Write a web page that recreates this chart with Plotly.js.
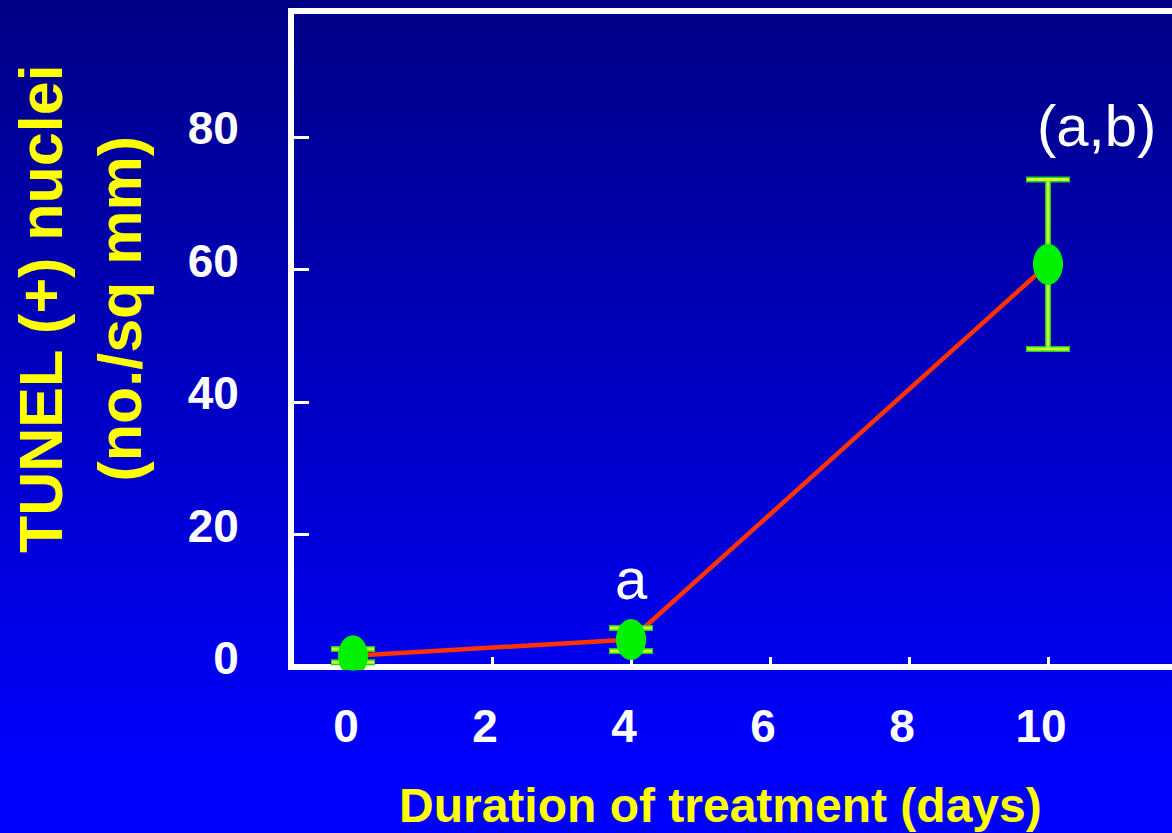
<!DOCTYPE html>
<html>
<head>
<meta charset="utf-8">
<script src="https://cdn.plot.ly/plotly-3.0.1.min.js"></script>
<style>
  html, body { margin: 0; padding: 0; width: 1172px; height: 833px; overflow: hidden; }
  body { background: linear-gradient(to bottom, #000085 0px, #0000ff 770px, #0000ff 833px); }
  #chart { width: 1172px; height: 833px; }
</style>
</head>
<body>
<div id="chart"></div>
<script>
// Data
const days = [0, 4, 10];                 // duration of treatment (days)
const tunel = [1.7, 4.15, 60.8];         // TUNEL (+) nuclei per sq mm
const sem = [1.0, 1.74, 12.8];           // error bar half-length
const xTickVals = [0, 2, 4, 6, 8, 10];
const yTickVals = [0, 20, 40, 60, 80];
const sigLabels = ['', 'a', '(a,b)'];

const FONT = 'Liberation Sans, Arial, sans-serif';

// axis geometry (pixels -> data units), used for ellipse marker size only
const xPerPx = 1 / 69.5;
const yPerPx = 1 / 6.625;
const X_RANGE = [-0.849, 11.784];
const Y_RANGE = [-0.453, 98.57];

const traces = [
  { x: days, y: tunel, type: 'scatter', mode: 'lines',
    line: { color: '#ff3300', width: 4.5 }, hoverinfo: 'skip', cliponaxis: false },
  { x: days, y: tunel, type: 'scatter', mode: 'markers',
    marker: { size: 1, color: 'rgba(0,0,0,0)' },
    error_y: { type: 'data', array: sem, visible: true, color: '#1fd21f', thickness: 6, width: 22 },
    hoverinfo: 'skip', cliponaxis: false },
  { x: days, y: tunel, type: 'scatter', mode: 'markers',
    marker: { size: 1, color: 'rgba(0,0,0,0)' },
    error_y: { type: 'data', array: sem, visible: true, color: '#ccff33', thickness: 3, width: 21 },
    hoverinfo: 'skip', cliponaxis: false },
  { x: days, y: tunel, type: 'scatter', mode: 'markers',
    marker: { size: 30, color: '#00f000', symbol: 'circle', line: { width: 0 } },
    hoverinfo: 'skip', cliponaxis: false },
  // carrier for the top frame axis (invisible)
  { x: days, y: tunel, type: 'scatter', mode: 'markers', xaxis: 'x2', yaxis: 'y',
    marker: { size: 1, color: 'rgba(0,0,0,0)' }, hoverinfo: 'skip' }
];

// ellipse-shaped markers built from the same data
const shapes = days.map((d, i) => ({
  type: 'circle', xref: 'x', yref: 'y', layer: 'above',
  x0: d - 15 * xPerPx, x1: d + 15 * xPerPx,
  y0: tunel[i] - 20.5 * yPerPx, y1: tunel[i] + 20.5 * yPerPx,
  fillcolor: '#00f000', line: { width: 0 }
}));

const annotations = [
  { text: sigLabels[1], xref: 'x', yref: 'y', x: 4, y: 13.4, showarrow: false,
    xanchor: 'center', yanchor: 'middle',
    font: { family: FONT, size: 58, color: '#ffffff' } },
  { text: sigLabels[2], xref: 'x', yref: 'y', x: 10.7, y: 81.7, showarrow: false,
    xanchor: 'center', yanchor: 'middle',
    font: { family: FONT, size: 58, color: '#ffffff' } },
  { text: 'TUNEL (+) nuclei<br>(no./sq mm)', xref: 'paper', yref: 'paper',
    x: -0.2437, y: 0.5503, textangle: -90, showarrow: false,
    xanchor: 'center', yanchor: 'middle',
    font: { family: FONT, size: 61, color: '#ffff00', weight: 'bold' } },
  { text: 'Duration of treatment (days)', xref: 'paper', yref: 'paper',
    x: 0.4852, y: -0.207, showarrow: false, xanchor: 'center', yanchor: 'middle',
    font: { family: FONT, size: 48, color: '#ffff00', weight: 'bold' } }
];

const layout = {
  width: 1172, height: 833,
  margin: { l: 294, r: 0, t: 14, b: 163, pad: 0 },
  paper_bgcolor: 'rgba(0,0,0,0)',
  plot_bgcolor: 'rgba(0,0,0,0)',
  showlegend: false,
  hovermode: false,
  xaxis: {
    range: X_RANGE, autorange: false,
    showgrid: false, zeroline: false, showline: false,
    ticks: 'inside', ticklen: 13, tickwidth: 3, tickcolor: '#ffffff',
    tickvals: xTickVals, ticktext: xTickVals.map(String),
    ticklabelstandoff: 25, ticklabelshift: -7,
    tickfont: { family: FONT, size: 46, color: '#ffffff', weight: 'bold' }
  },
  xaxis2: {
    overlaying: 'x', side: 'top', anchor: 'y',
    range: X_RANGE, autorange: false,
    showgrid: false, zeroline: false,
    showline: true, linecolor: '#ffffff', linewidth: 6,
    ticks: '', showticklabels: false
  },
  yaxis: {
    range: Y_RANGE, autorange: false,
    showgrid: false,
    zeroline: true, zerolinecolor: '#ffffff', zerolinewidth: 6,
    showline: true, linecolor: '#ffffff', linewidth: 6, mirror: false,
    ticks: 'inside', ticklen: 15, tickwidth: 3, tickcolor: '#ffffff',
    tickvals: yTickVals, ticktext: yTickVals.map(String),
    ticklabelstandoff: 40, ticklabelshift: -9,
    tickfont: { family: FONT, size: 46, color: '#ffffff', weight: 'bold' }
  },
  shapes: shapes,
  annotations: annotations
};

Plotly.newPlot('chart', traces, layout, { displayModeBar: false, staticPlot: true });
</script>
</body>
</html>
